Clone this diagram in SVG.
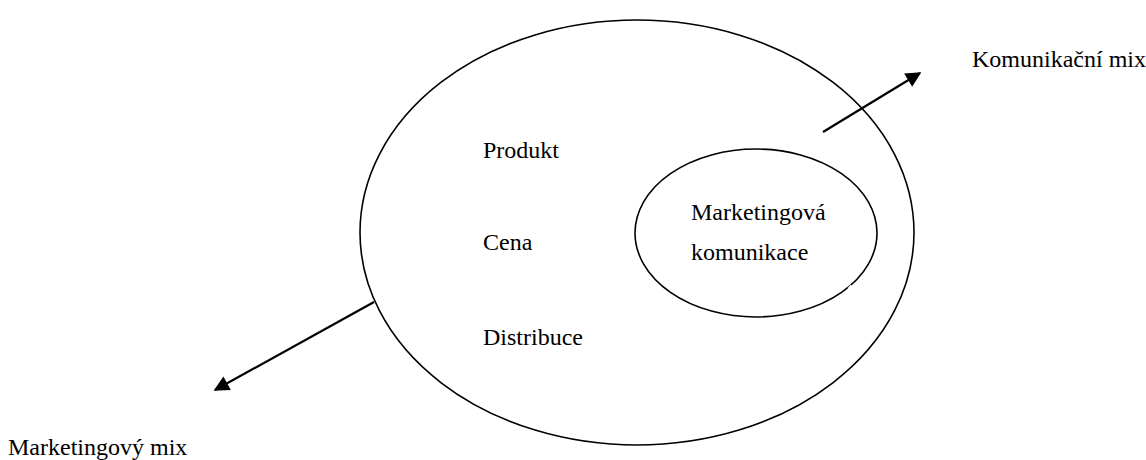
<svg xmlns="http://www.w3.org/2000/svg" width="1146" height="460" viewBox="0 0 1146 460">
  <style>
    .ring { fill: none; stroke: #000; stroke-width: 1.6; }
    .lbl { font-family: "Liberation Serif", "Times New Roman", serif; font-size: 24px; fill: #000; }
    .conn { stroke: #000; stroke-width: 2.2; fill: none; }
  </style>
  <defs>
    <marker id="head" viewBox="0 0 10 10" refX="9" refY="5" markerWidth="8" markerHeight="7" markerUnits="strokeWidth" orient="auto">
      <path d="M0,0 L10,5 L0,10 Z" fill="#000"/>
    </marker>
  </defs>

  <!-- Marketing mix (outer set) -->
  <g id="marketing-mix">
    <ellipse class="ring" cx="637" cy="232.5" rx="277" ry="212.5"/>
    <text class="lbl" x="483" y="158">Produkt</text>
    <text class="lbl" x="483" y="250">Cena</text>
    <text class="lbl" x="483" y="345">Distribuce</text>
  </g>

  <!-- Marketing communication (inner set) -->
  <g id="marketing-communication">
    <ellipse class="ring" cx="756" cy="233" rx="121" ry="84"/>
    <line x1="848.5" y1="289" x2="851.5" y2="285.5" stroke="#fff" stroke-width="2.5"/>
    <text class="lbl" x="691" y="220">Marketingová</text>
    <text class="lbl" x="691" y="260">komunikace</text>
  </g>

  <!-- Outside labels -->
  <g id="label-communication-mix">
    <text class="lbl" x="972" y="67">Komunikační mix</text>
  </g>
  <g id="label-marketing-mix">
    <text class="lbl" x="8" y="455">Marketingový mix</text>
  </g>

  <!-- Connectors -->
  <g id="connectors">
    <line class="conn" x1="374" y1="302" x2="215" y2="390" marker-end="url(#head)"/>
    <line class="conn" x1="823" y1="132" x2="920" y2="73" marker-end="url(#head)"/>
  </g>
</svg>
